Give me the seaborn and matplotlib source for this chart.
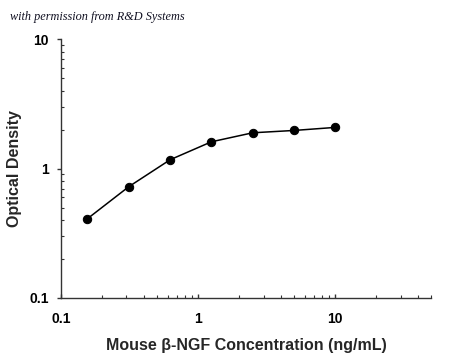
import pandas as pd
import matplotlib
matplotlib.use('Agg')
import matplotlib.pyplot as plt
import matplotlib.ticker as mticker
import seaborn as sns

# standard curve data
concentration = [0.156, 0.3125, 0.625, 1.25, 2.5, 5, 10]
optical_density = [0.41, 0.725, 1.17, 1.61, 1.89, 1.97, 2.08]

x_ticks = [0.1, 1, 10]
x_tick_labels = ['0.1', '1', '10']
y_ticks = [0.1, 1, 10]
y_tick_labels = ['0.1', '1', '10']

sns.set_style('white')
plt.rcParams['font.family'] = ['Liberation Sans', 'DejaVu Sans']

df = pd.DataFrame({'conc': concentration, 'od': optical_density})

fig = plt.figure(figsize=(4.5, 3.56), dpi=100)
ax = fig.add_axes([0.1356, 0.163, 0.8222, 0.727])

sns.lineplot(x='conc', y='od', data=df, ax=ax, color='black', linewidth=1.1,
             marker='o', markersize=6, markeredgecolor='black', markerfacecolor='black')

ax.set_xscale('log')
ax.set_yscale('log')
ax.set_xlim(0.1, 50)
ax.set_ylim(0.1, 10)

ax.xaxis.set_major_locator(mticker.FixedLocator(x_ticks))
ax.xaxis.set_major_formatter(mticker.FixedFormatter(x_tick_labels))
ax.yaxis.set_major_locator(mticker.FixedLocator(y_ticks))
ax.yaxis.set_major_formatter(mticker.FixedFormatter(y_tick_labels))
ax.xaxis.set_minor_locator(mticker.LogLocator(base=10, subs=range(2, 10)))
ax.yaxis.set_minor_locator(mticker.LogLocator(base=10, subs=range(2, 10)))
ax.xaxis.set_minor_formatter(mticker.NullFormatter())
ax.yaxis.set_minor_formatter(mticker.NullFormatter())

for s in ['top', 'right']:
    ax.spines[s].set_visible(False)
for s in ['left', 'bottom']:
    ax.spines[s].set_color('#333333')
    ax.spines[s].set_linewidth(1.0)

ax.tick_params(axis='y', which='major', direction='out', length=3, width=1, pad=6,
               left=True, labelsize=10, colors='#333333', labelcolor='black')
ax.tick_params(axis='y', which='minor', direction='in', length=2.5, width=0.8, left=True,
               colors='#333333')
ax.tick_params(axis='x', which='major', direction='in', length=3, width=1, pad=10,
               bottom=True, labelsize=10, colors='#333333', labelcolor='black')
ax.tick_params(axis='x', which='minor', direction='in', length=2.5, width=0.8, bottom=True,
               colors='#333333')
for lab in ax.get_xticklabels() + ax.get_yticklabels():
    lab.set_fontweight('bold')

ax.set_xlabel('Mouse β-NGF Concentration (ng/mL)', fontsize=11.5, fontweight='bold', va='center')
ax.set_ylabel('Optical Density', fontsize=11.5, fontweight='bold', va='center')
ax.xaxis.set_label_coords(0.5, -0.185)
ax.yaxis.set_label_coords(-0.127, 0.5)

fig.text(0.022, 0.952, 'with permission from R&D Systems', fontsize=8.8, style='italic',
         family=['Liberation Serif', 'DejaVu Serif'], color='#111122', va='center')

fig.savefig('out.png', dpi=100, facecolor='white')
